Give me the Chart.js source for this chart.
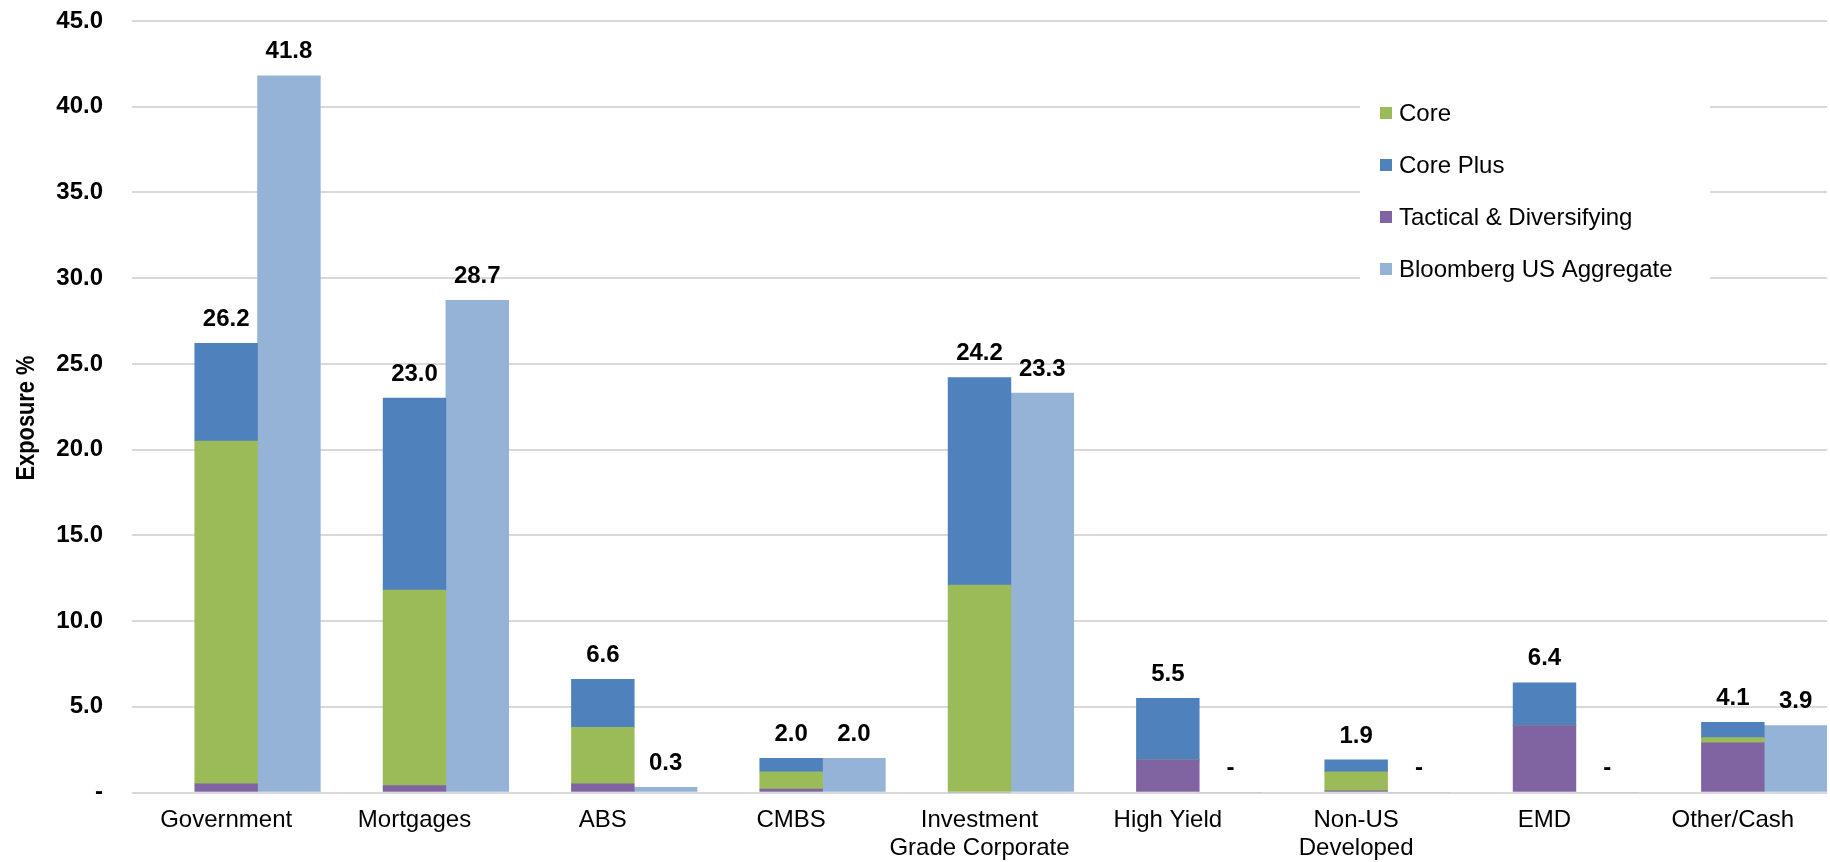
<!DOCTYPE html>
<html>
<head>
<title>Exposure %</title>
<script src="https://cdn.jsdelivr.net/npm/chart.js"></script>
<style>
  body { margin: 0; background: #fff; }
  #wrap { width: 1830px; height: 862px; }
</style>
</head>
<body>
<div id="wrap"><canvas id="exposureChart"></canvas></div>
<script>
// values (exposure %)
const categories = ['Government', 'Mortgages', 'ABS', 'CMBS', ['Investment', 'Grade Corporate'],
                    'High Yield', ['Non-US', 'Developed'], 'EMD', 'Other/Cash'];
const tactical  = [0.5, 0.4, 0.5, 0.2, 0.0, 1.9, 0.1, 3.9, 2.9];
const core      = [20.0, 11.4, 3.3, 1.0, 12.1, 0.0, 1.1, 0.0, 0.3];
const corePlus  = [5.7, 11.2, 2.8, 0.8, 12.1, 3.6, 0.7, 2.5, 0.9];
const bloomberg = [41.8, 28.7, 0.3, 2.0, 23.3, 0.0, 0.0, 0.0, 3.9];
// empty slot left of each group, so the pair of bars sits right of centre like the original
const spacer    = [0, 0, 0, 0, 0, 0, 0, 0, 0];

const yMin = 0, yMax = 45, yStep = 5;
const yTitle = 'Exposure %';
const legendOrder = ['Core', 'Core Plus', 'Tactical & Diversifying', 'Bloomberg US Aggregate'];

const FONT = '"Liberation Sans", Arial, sans-serif';

function fmt(v) {
    return Math.abs(v) < 0.05 ? '-' : v.toFixed(1);
}

// totals above each stack
const totalLabels = {
    id: 'totalLabels',
    afterDatasetsDraw(chart) {
        const { ctx } = chart;
        const y = chart.scales.y;
        const topMeta = chart.getDatasetMeta(3);
        const benchMeta = chart.getDatasetMeta(4);
        ctx.save();
        ctx.font = 'bold 24px ' + FONT;
        ctx.fillStyle = '#000';
        ctx.textAlign = 'center';
        ctx.textBaseline = 'middle';
        categories.forEach((c, i) => {
            const total = tactical[i] + core[i] + corePlus[i];
            ctx.fillText(fmt(total), topMeta.data[i].x, y.getPixelForValue(total) - 24);
            ctx.fillText(fmt(bloomberg[i]), benchMeta.data[i].x, y.getPixelForValue(bloomberg[i]) - 24);
        });
        ctx.restore();
    }
};

// y title in a narrow bold face (the original uses Arial Narrow)
const narrowTitle = {
    id: 'narrowTitle',
    afterDraw(chart) {
        const { ctx } = chart;
        ctx.save();
        ctx.translate(27, 418);
        ctx.rotate(-Math.PI / 2);
        ctx.scale(0.84, 1);
        ctx.font = 'bold 26px ' + FONT;
        ctx.fillStyle = '#000';
        ctx.textAlign = 'center';
        ctx.textBaseline = 'middle';
        ctx.fillText(yTitle, 0, 0);
        ctx.restore();
    }
};

// legend box inside the plot, one item per line
const boxLegend = {
    id: 'boxLegend',
    beforeDatasetsDraw(chart) {
        const { ctx } = chart;
        ctx.save();
        ctx.fillStyle = '#fff';
        ctx.fillRect(1360, 40, 350, 252);
        ctx.font = '24px ' + FONT;
        ctx.textBaseline = 'middle';
        ctx.textAlign = 'left';
        legendOrder.forEach((name, k) => {
            const ds = chart.data.datasets.find(d => d.label === name);
            const cy = 113 + k * 52;
            ctx.fillStyle = ds.backgroundColor;
            ctx.fillRect(1380, cy - 6, 12, 12);
            ctx.fillStyle = '#000';
            ctx.fillText(name, 1399, cy + 1);
        });
        ctx.restore();
    }
};

const ctx = document.getElementById('exposureChart').getContext('2d');
const exposureChart = new Chart(ctx, {
    type: 'bar',
    data: {
        labels: categories,
        datasets: [
            { label: 'spacer', data: spacer, stack: 'pad', backgroundColor: 'rgba(0,0,0,0)' },
            { label: 'Tactical & Diversifying', data: tactical, stack: 'fund', backgroundColor: '#8064A2' },
            { label: 'Core', data: core, stack: 'fund', backgroundColor: '#9BBB59' },
            { label: 'Core Plus', data: corePlus, stack: 'fund', backgroundColor: '#4F81BD' },
            { label: 'Bloomberg US Aggregate', data: bloomberg, stack: 'index', backgroundColor: '#95B3D7' }
        ]
    },
    options: {
        responsive: true,
        maintainAspectRatio: false,
        animation: false,
        layout: { padding: { top: 21, right: 3, left: 0, bottom: 0 } },
        datasets: { bar: { categoryPercentage: 1.0, barPercentage: 1.0, borderWidth: 0 } },
        plugins: {
            legend: { display: false },
            tooltip: { filter: item => item.dataset.label !== 'spacer' }
        },
        scales: {
            x: {
                stacked: true,
                grid: { display: false, drawTicks: false },
                border: { display: false },
                ticks: {
                    color: '#000',
                    font: { family: FONT, size: 24 },
                    padding: 13,
                    maxRotation: 0,
                    autoSkip: false
                },
                afterFit(scale) { scale.height = 69.5; }
            },
            y: {
                stacked: true,
                min: yMin,
                max: yMax,
                grid: { color: '#D9D9D9', lineWidth: 2, drawTicks: false },
                border: { display: false },
                ticks: {
                    stepSize: yStep,
                    color: '#000',
                    font: { family: FONT, size: 24, weight: 'bold' },
                    padding: 29,
                    callback: v => fmt(v)
                },
                afterFit(scale) {
                    scale.width = 132;
                    scale.paddingTop = 0;
                    scale.paddingBottom = 0;
                }
            }
        }
    },
    plugins: [boxLegend, totalLabels, narrowTitle]
});
</script>
</body>
</html>
